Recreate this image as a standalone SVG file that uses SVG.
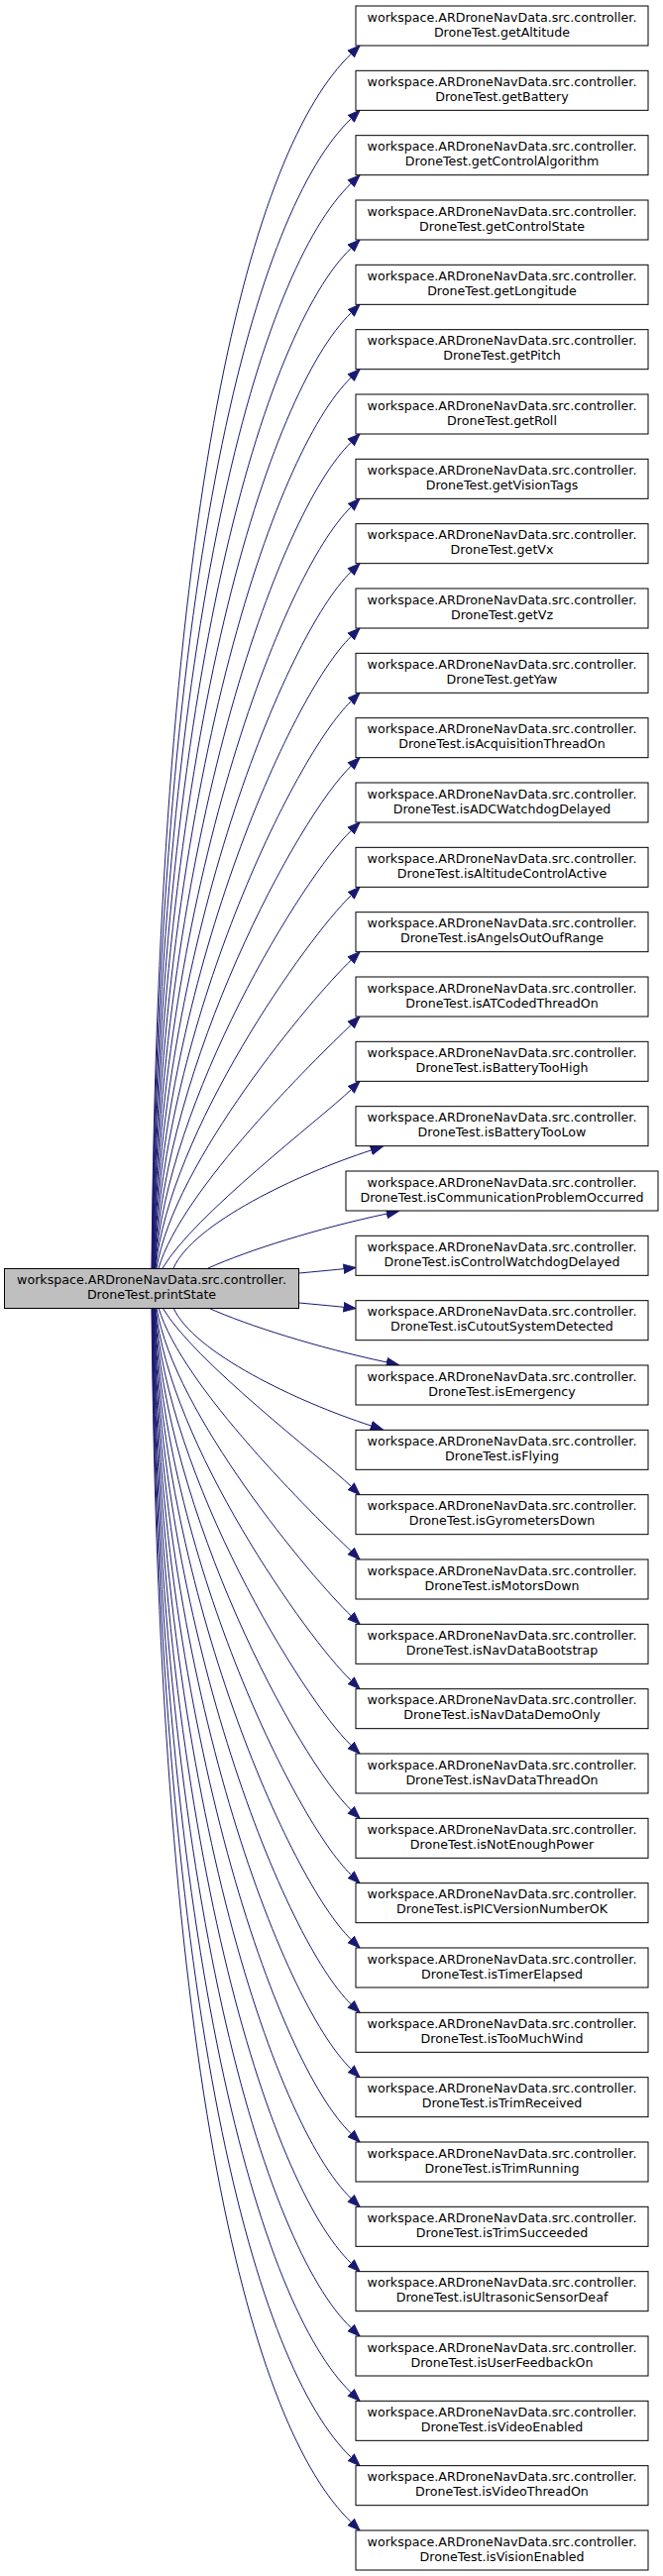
<svg xmlns="http://www.w3.org/2000/svg" width="669" height="2600" viewBox="0 0 669 2600">
<style>
.node rect{fill:#ffffff;stroke:#000000;stroke-width:1}
#src rect{fill:#bfbfbf}
.node text{font-family:"DejaVu Sans","Liberation Sans",sans-serif;font-size:12.65px;text-anchor:middle;fill:#000000}
.edges path{fill:none;stroke:#191970;stroke-width:1;marker-end:url(#ah)}
</style>
<defs>
<marker id="ah" markerUnits="userSpaceOnUse" markerWidth="14" markerHeight="12" viewBox="0 -6 13 12" refX="0" refY="0" orient="auto">
<path d="M0,-4.5 L12,0 L0,4.5 z" fill="#191970" stroke="#191970" stroke-width="1"/>
</marker>
</defs>
<rect x="0" y="0" width="669" height="2600" fill="#ffffff"/>
<g class="edges" id="edges">
<path d="M153,1280 C160,495.7 254.7,150 354.4,54.3"/>
<path d="M153.3,1280 C160.3,562.2 259,211.2 354.4,119.63"/>
<path d="M153.6,1280 C160.7,625.8 263.2,272.5 354.4,184.97"/>
<path d="M153.9,1280 C161,686.7 267.5,333.8 354.4,250.3"/>
<path d="M154.2,1280 C161.3,744.9 271.7,395 354.4,315.63"/>
<path d="M154.5,1280 C161.7,800.2 276,456.3 354.4,380.97"/>
<path d="M154.8,1280 C162.1,852.7 280.2,517.5 354.4,446.3"/>
<path d="M155.1,1280 C162.6,902.6 284.5,578.8 354.4,511.63"/>
<path d="M155.4,1280 C163.2,949.6 288.7,640.1 354.4,576.97"/>
<path d="M155.7,1280 C163.9,993.8 293,701.3 354.4,642.3"/>
<path d="M156,1280 C164.8,1035.3 297.2,762.5 354.4,707.63"/>
<path d="M156.3,1280 C166.1,1074 301.4,823.8 354.4,772.97"/>
<path d="M156.6,1280 C168,1109.9 305.7,885.1 354.4,838.3"/>
<path d="M157,1280 C170.8,1143.1 309.9,946.3 354.4,903.63"/>
<path d="M158,1280 C175.4,1173.4 314.2,1007.6 354.4,968.97"/>
<path d="M160,1280 C183.1,1201 318.4,1068.8 354.4,1034.3"/>
<path d="M164,1280 C196,1225.9 322.7,1130.1 354.4,1099.63"/>
<path d="M175,1280 C195,1235 300,1185 374.8,1160.9"/>
<path d="M210,1280 C250,1262 320,1240 390.4,1225"/>
<path d="M302,1285 C318,1283.5 332,1282.2 347,1280.7"/>
<path d="M302,1315 C318,1316.5 332,1317.8 347,1319.3"/>
<path d="M210,1320 C250,1338 320,1360 390.4,1375"/>
<path d="M175,1320 C195,1365 300,1415 374.8,1439.1"/>
<path d="M164,1320 C196,1374.1 322.7,1469.9 354.4,1500.37"/>
<path d="M160,1320 C183.1,1399 318.4,1531.2 354.4,1565.7"/>
<path d="M158,1320 C175.4,1426.6 314.2,1592.4 354.4,1631.03"/>
<path d="M157,1320 C170.8,1456.9 309.9,1653.7 354.4,1696.37"/>
<path d="M156.6,1320 C168,1490.1 305.7,1714.9 354.4,1761.7"/>
<path d="M156.3,1320 C166.1,1526 301.4,1776.2 354.4,1827.03"/>
<path d="M156,1320 C164.8,1564.7 297.2,1837.5 354.4,1892.37"/>
<path d="M155.7,1320 C163.9,1606.2 293,1898.7 354.4,1957.7"/>
<path d="M155.4,1320 C163.2,1650.4 288.7,1959.9 354.4,2023.03"/>
<path d="M155.1,1320 C162.6,1697.4 284.5,2021.2 354.4,2088.37"/>
<path d="M154.8,1320 C162.1,1747.3 280.2,2082.5 354.4,2153.7"/>
<path d="M154.5,1320 C161.7,1799.8 276,2143.7 354.4,2219.03"/>
<path d="M154.2,1320 C161.3,1855.1 271.7,2205 354.4,2284.37"/>
<path d="M153.9,1320 C161,1913.3 267.5,2266.2 354.4,2349.7"/>
<path d="M153.6,1320 C160.7,1974.2 263.2,2327.5 354.4,2415.03"/>
<path d="M153.3,1320 C160.3,2037.8 259,2388.8 354.4,2480.37"/>
<path d="M153,1320 C160,2104.3 254.7,2450 354.4,2545.7"/>
</g>
<g id="src" class="node" transform="translate(0,1280.5)"><rect x="4.5" y="0" width="297" height="40"/><text x="153" y="15.5">workspace.ARDroneNavData.src.controller.</text><text x="153" y="30.8">DroneTest.printState</text></g>
<g id="n0" class="node" transform="translate(0,6)"><rect x="359" y="0" width="295" height="40"/><text x="506.5" y="15.5">workspace.ARDroneNavData.src.controller.</text><text x="506.5" y="30.8">DroneTest.getAltitude</text></g>
<g id="n1" class="node" transform="translate(0,71.33)"><rect x="359" y="0" width="295" height="40"/><text x="506.5" y="15.5">workspace.ARDroneNavData.src.controller.</text><text x="506.5" y="30.8">DroneTest.getBattery</text></g>
<g id="n2" class="node" transform="translate(0,136.67)"><rect x="359" y="0" width="295" height="40"/><text x="506.5" y="15.5">workspace.ARDroneNavData.src.controller.</text><text x="506.5" y="30.8">DroneTest.getControlAlgorithm</text></g>
<g id="n3" class="node" transform="translate(0,202)"><rect x="359" y="0" width="295" height="40"/><text x="506.5" y="15.5">workspace.ARDroneNavData.src.controller.</text><text x="506.5" y="30.8">DroneTest.getControlState</text></g>
<g id="n4" class="node" transform="translate(0,267.33)"><rect x="359" y="0" width="295" height="40"/><text x="506.5" y="15.5">workspace.ARDroneNavData.src.controller.</text><text x="506.5" y="30.8">DroneTest.getLongitude</text></g>
<g id="n5" class="node" transform="translate(0,332.67)"><rect x="359" y="0" width="295" height="40"/><text x="506.5" y="15.5">workspace.ARDroneNavData.src.controller.</text><text x="506.5" y="30.8">DroneTest.getPitch</text></g>
<g id="n6" class="node" transform="translate(0,398)"><rect x="359" y="0" width="295" height="40"/><text x="506.5" y="15.5">workspace.ARDroneNavData.src.controller.</text><text x="506.5" y="30.8">DroneTest.getRoll</text></g>
<g id="n7" class="node" transform="translate(0,463.33)"><rect x="359" y="0" width="295" height="40"/><text x="506.5" y="15.5">workspace.ARDroneNavData.src.controller.</text><text x="506.5" y="30.8">DroneTest.getVisionTags</text></g>
<g id="n8" class="node" transform="translate(0,528.67)"><rect x="359" y="0" width="295" height="40"/><text x="506.5" y="15.5">workspace.ARDroneNavData.src.controller.</text><text x="506.5" y="30.8">DroneTest.getVx</text></g>
<g id="n9" class="node" transform="translate(0,594)"><rect x="359" y="0" width="295" height="40"/><text x="506.5" y="15.5">workspace.ARDroneNavData.src.controller.</text><text x="506.5" y="30.8">DroneTest.getVz</text></g>
<g id="n10" class="node" transform="translate(0,659.33)"><rect x="359" y="0" width="295" height="40"/><text x="506.5" y="15.5">workspace.ARDroneNavData.src.controller.</text><text x="506.5" y="30.8">DroneTest.getYaw</text></g>
<g id="n11" class="node" transform="translate(0,724.67)"><rect x="359" y="0" width="295" height="40"/><text x="506.5" y="15.5">workspace.ARDroneNavData.src.controller.</text><text x="506.5" y="30.8">DroneTest.isAcquisitionThreadOn</text></g>
<g id="n12" class="node" transform="translate(0,790)"><rect x="359" y="0" width="295" height="40"/><text x="506.5" y="15.5">workspace.ARDroneNavData.src.controller.</text><text x="506.5" y="30.8">DroneTest.isADCWatchdogDelayed</text></g>
<g id="n13" class="node" transform="translate(0,855.33)"><rect x="359" y="0" width="295" height="40"/><text x="506.5" y="15.5">workspace.ARDroneNavData.src.controller.</text><text x="506.5" y="30.8">DroneTest.isAltitudeControlActive</text></g>
<g id="n14" class="node" transform="translate(0,920.67)"><rect x="359" y="0" width="295" height="40"/><text x="506.5" y="15.5">workspace.ARDroneNavData.src.controller.</text><text x="506.5" y="30.8">DroneTest.isAngelsOutOufRange</text></g>
<g id="n15" class="node" transform="translate(0,986)"><rect x="359" y="0" width="295" height="40"/><text x="506.5" y="15.5">workspace.ARDroneNavData.src.controller.</text><text x="506.5" y="30.8">DroneTest.isATCodedThreadOn</text></g>
<g id="n16" class="node" transform="translate(0,1051.33)"><rect x="359" y="0" width="295" height="40"/><text x="506.5" y="15.5">workspace.ARDroneNavData.src.controller.</text><text x="506.5" y="30.8">DroneTest.isBatteryTooHigh</text></g>
<g id="n17" class="node" transform="translate(0,1116.67)"><rect x="359" y="0" width="295" height="40"/><text x="506.5" y="15.5">workspace.ARDroneNavData.src.controller.</text><text x="506.5" y="30.8">DroneTest.isBatteryTooLow</text></g>
<g id="n18" class="node" transform="translate(0,1182)"><rect x="349" y="0" width="315" height="40"/><text x="506.5" y="15.5">workspace.ARDroneNavData.src.controller.</text><text x="506.5" y="30.8">DroneTest.isCommunicationProblemOccurred</text></g>
<g id="n19" class="node" transform="translate(0,1247.33)"><rect x="359" y="0" width="295" height="40"/><text x="506.5" y="15.5">workspace.ARDroneNavData.src.controller.</text><text x="506.5" y="30.8">DroneTest.isControlWatchdogDelayed</text></g>
<g id="n20" class="node" transform="translate(0,1312.67)"><rect x="359" y="0" width="295" height="40"/><text x="506.5" y="15.5">workspace.ARDroneNavData.src.controller.</text><text x="506.5" y="30.8">DroneTest.isCutoutSystemDetected</text></g>
<g id="n21" class="node" transform="translate(0,1378)"><rect x="359" y="0" width="295" height="40"/><text x="506.5" y="15.5">workspace.ARDroneNavData.src.controller.</text><text x="506.5" y="30.8">DroneTest.isEmergency</text></g>
<g id="n22" class="node" transform="translate(0,1443.33)"><rect x="359" y="0" width="295" height="40"/><text x="506.5" y="15.5">workspace.ARDroneNavData.src.controller.</text><text x="506.5" y="30.8">DroneTest.isFlying</text></g>
<g id="n23" class="node" transform="translate(0,1508.67)"><rect x="359" y="0" width="295" height="40"/><text x="506.5" y="15.5">workspace.ARDroneNavData.src.controller.</text><text x="506.5" y="30.8">DroneTest.isGyrometersDown</text></g>
<g id="n24" class="node" transform="translate(0,1574)"><rect x="359" y="0" width="295" height="40"/><text x="506.5" y="15.5">workspace.ARDroneNavData.src.controller.</text><text x="506.5" y="30.8">DroneTest.isMotorsDown</text></g>
<g id="n25" class="node" transform="translate(0,1639.33)"><rect x="359" y="0" width="295" height="40"/><text x="506.5" y="15.5">workspace.ARDroneNavData.src.controller.</text><text x="506.5" y="30.8">DroneTest.isNavDataBootstrap</text></g>
<g id="n26" class="node" transform="translate(0,1704.67)"><rect x="359" y="0" width="295" height="40"/><text x="506.5" y="15.5">workspace.ARDroneNavData.src.controller.</text><text x="506.5" y="30.8">DroneTest.isNavDataDemoOnly</text></g>
<g id="n27" class="node" transform="translate(0,1770)"><rect x="359" y="0" width="295" height="40"/><text x="506.5" y="15.5">workspace.ARDroneNavData.src.controller.</text><text x="506.5" y="30.8">DroneTest.isNavDataThreadOn</text></g>
<g id="n28" class="node" transform="translate(0,1835.33)"><rect x="359" y="0" width="295" height="40"/><text x="506.5" y="15.5">workspace.ARDroneNavData.src.controller.</text><text x="506.5" y="30.8">DroneTest.isNotEnoughPower</text></g>
<g id="n29" class="node" transform="translate(0,1900.67)"><rect x="359" y="0" width="295" height="40"/><text x="506.5" y="15.5">workspace.ARDroneNavData.src.controller.</text><text x="506.5" y="30.8">DroneTest.isPICVersionNumberOK</text></g>
<g id="n30" class="node" transform="translate(0,1966)"><rect x="359" y="0" width="295" height="40"/><text x="506.5" y="15.5">workspace.ARDroneNavData.src.controller.</text><text x="506.5" y="30.8">DroneTest.isTimerElapsed</text></g>
<g id="n31" class="node" transform="translate(0,2031.33)"><rect x="359" y="0" width="295" height="40"/><text x="506.5" y="15.5">workspace.ARDroneNavData.src.controller.</text><text x="506.5" y="30.8">DroneTest.isTooMuchWind</text></g>
<g id="n32" class="node" transform="translate(0,2096.67)"><rect x="359" y="0" width="295" height="40"/><text x="506.5" y="15.5">workspace.ARDroneNavData.src.controller.</text><text x="506.5" y="30.8">DroneTest.isTrimReceived</text></g>
<g id="n33" class="node" transform="translate(0,2162)"><rect x="359" y="0" width="295" height="40"/><text x="506.5" y="15.5">workspace.ARDroneNavData.src.controller.</text><text x="506.5" y="30.8">DroneTest.isTrimRunning</text></g>
<g id="n34" class="node" transform="translate(0,2227.33)"><rect x="359" y="0" width="295" height="40"/><text x="506.5" y="15.5">workspace.ARDroneNavData.src.controller.</text><text x="506.5" y="30.8">DroneTest.isTrimSucceeded</text></g>
<g id="n35" class="node" transform="translate(0,2292.67)"><rect x="359" y="0" width="295" height="40"/><text x="506.5" y="15.5">workspace.ARDroneNavData.src.controller.</text><text x="506.5" y="30.8">DroneTest.isUltrasonicSensorDeaf</text></g>
<g id="n36" class="node" transform="translate(0,2358)"><rect x="359" y="0" width="295" height="40"/><text x="506.5" y="15.5">workspace.ARDroneNavData.src.controller.</text><text x="506.5" y="30.8">DroneTest.isUserFeedbackOn</text></g>
<g id="n37" class="node" transform="translate(0,2423.33)"><rect x="359" y="0" width="295" height="40"/><text x="506.5" y="15.5">workspace.ARDroneNavData.src.controller.</text><text x="506.5" y="30.8">DroneTest.isVideoEnabled</text></g>
<g id="n38" class="node" transform="translate(0,2488.67)"><rect x="359" y="0" width="295" height="40"/><text x="506.5" y="15.5">workspace.ARDroneNavData.src.controller.</text><text x="506.5" y="30.8">DroneTest.isVideoThreadOn</text></g>
<g id="n39" class="node" transform="translate(0,2554)"><rect x="359" y="0" width="295" height="40"/><text x="506.5" y="15.5">workspace.ARDroneNavData.src.controller.</text><text x="506.5" y="30.8">DroneTest.isVisionEnabled</text></g>
</svg>
